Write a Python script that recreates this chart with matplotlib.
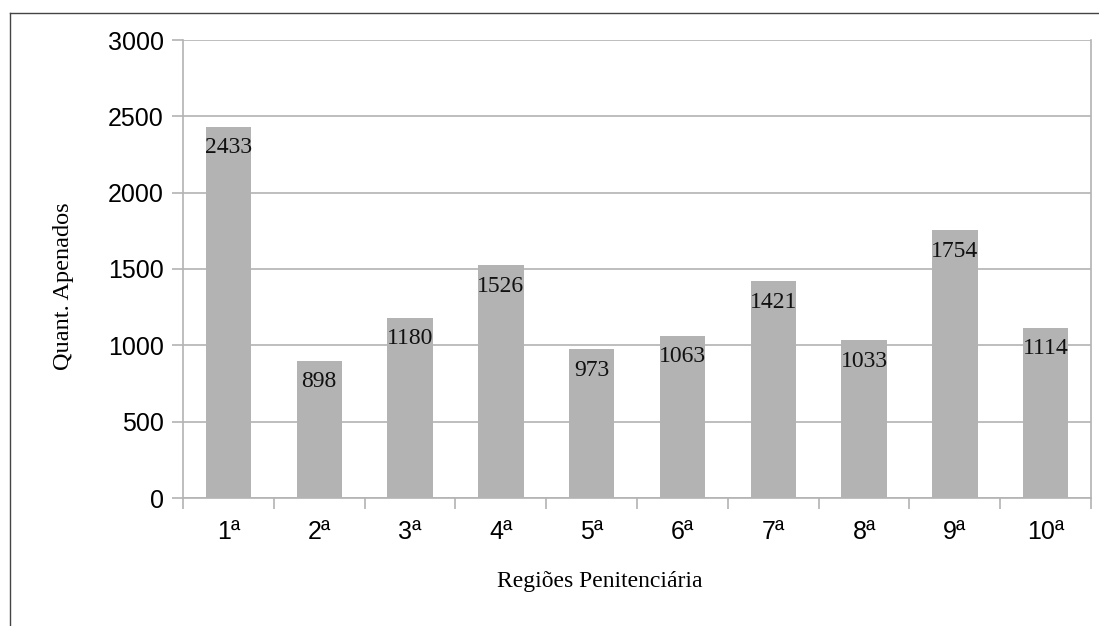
import matplotlib
matplotlib.use("Agg")
import matplotlib.pyplot as plt
from matplotlib.lines import Line2D
import numpy as np

categories = ["1ª", "2ª", "3ª", "4ª", "5ª", "6ª", "7ª", "8ª", "9ª", "10ª"]
values = [2433, 898, 1180, 1526, 973, 1063, 1421, 1033, 1754, 1114]
yticks = [0, 500, 1000, 1500, 2000, 2500, 3000]

W, H = 1099, 626
fig = plt.figure(figsize=(W / 100, H / 100), dpi=100)
ax = fig.add_axes([183 / W, 1 - 498 / H, (1091 - 183) / W, (498 - 40) / H])

grey = "#b3b3b3"
x = np.arange(len(categories))
ax.bar(x, values, width=0.5, color=grey, zorder=2)
ax.set_xlim(-0.5, len(categories) - 0.5)
ax.set_ylim(0, 3000)
ax.set_yticks(yticks)
ax.set_yticklabels([str(t) for t in yticks], family="Liberation Sans", fontsize=18)
ax.yaxis.grid(True, color=grey, linewidth=1.2, zorder=0)
ax.set_axisbelow(True)

ax.set_xticks(x)
ax.set_xticklabels(categories, family="Liberation Sans", fontsize=18)
ax.tick_params(axis="x", which="major", length=0, pad=16)
ax.set_xticks(np.arange(len(categories) + 1) - 0.5, minor=True)
ax.tick_params(axis="x", which="minor", length=8, width=1.2, color=grey)
ax.tick_params(axis="y", length=8, width=1.2, color=grey, pad=6)

for s in ["left", "right", "bottom"]:
    ax.spines[s].set_color(grey)
    ax.spines[s].set_linewidth(1.2)
ax.spines["top"].set_visible(False)

for xi, v in zip(x, values):
    ax.annotate(str(v), (xi, v), xytext=(0, -21), textcoords="offset pixels",
                ha="center", va="center", family="Liberation Serif", fontsize=17,
                color="#111111", zorder=3)

fig.text(64 / W, 1 - 286 / H, "Quant. Apenados", rotation=90, ha="center", va="center",
         family="Liberation Serif", fontsize=17.5)
fig.text(600 / W, 1 - 582 / H, "Regiões Penitenciária", ha="center", va="center",
         family="Liberation Serif", fontsize=17)

# outer frame
fig.add_artist(Line2D([9.5 / W, 9.5 / W], [0, 1 - 13 / H], transform=fig.transFigure,
                      color="#444444", linewidth=1.0))
fig.add_artist(Line2D([9.5 / W, 1], [1 - 13 / H, 1 - 13 / H], transform=fig.transFigure,
                      color="#444444", linewidth=1.0))

fig.savefig("out.png", dpi=100)
